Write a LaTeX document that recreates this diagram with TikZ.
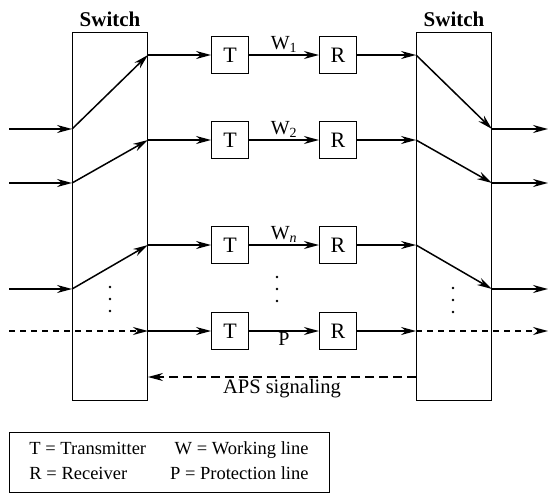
\documentclass[tikz,border=0pt]{standalone}
\usepackage{fontspec}
\setmainfont{Liberation Serif}
\usetikzlibrary{arrows.meta, positioning}

\begin{document}
\begin{tikzpicture}[
        x=1pt, y=-1pt,
        font=\fontsize{18.5}{22}\selectfont,
        sw/.style={draw, line width=0.9pt, minimum width=75pt, minimum height=368pt, inner sep=0pt},
        swlabel/.style={font=\fontsize{21}{24}\selectfont\bfseries},
        box/.style={draw, line width=0.9pt, minimum size=37pt, inner sep=0pt, font=\fontsize{22}{24}\selectfont},
        lbl/.style={font=\fontsize{20}{24}\selectfont},
        arr/.style={-{Stealth[length=15pt, width=8pt]}, line width=1.5pt},
        prot/.style={arr, dash pattern=on 6pt off 5pt},
        aps/.style={arr, line width=1.2pt, dash pattern=on 9pt off 5pt}
    ]
    \useasboundingbox (0,0) rectangle (550,493);

    \node[sw] (sw1) at (110,216) {};
    \node[sw] (sw2) at (454,216) {};
    \node[swlabel, above=1pt of sw1] (lab1) {Switch};
    \node[swlabel, above=1pt of sw2] (lab2) {Switch};

    \node[box] (t1) at (230,55)  {T};
    \node[box] (t2) at (230,140) {T};
    \node[box] (t3) at (230,245) {T};
    \node[box] (t4) at (230,331) {T};
    \node[box, right=70pt of t1] (r1) {R};
    \node[box, right=70pt of t2] (r2) {R};
    \node[box, right=70pt of t3] (r3) {R};
    \node[box, right=70pt of t4] (r4) {R};

    \foreach \i/\yin/\yout in {1/129/55, 2/183/140, 3/289/245} {
        \coordinate (in\i)  at (9,\yin);
        \coordinate (a\i)   at (sw1.west |- 0,\yin);
        \coordinate (b\i)   at (sw1.east |- 0,\yout);
        \coordinate (c\i)   at (sw2.west |- 0,\yout);
        \coordinate (d\i)   at (sw2.east |- 0,\yin);
        \coordinate (out\i) at (548,\yin);
    }
    \coordinate (inp)  at (9,331);
    \coordinate (b4)   at (sw1.east |- 0,331);
    \coordinate (c4)   at (sw2.west |- 0,331);
    \coordinate (outp) at (548,331);

    \foreach \i in {1,2,3} {
        \draw[arr] (in\i) -- (a\i);
        \draw[arr] (a\i) -- (b\i);
        \draw[arr] (b\i) -- (t\i);
        \draw[arr] (r\i) -- (c\i);
        \draw[arr] (c\i) -- (d\i);
        \draw[arr] (d\i) -- (out\i);
    }
    \draw[arr] (t1) -- node[lbl, above, inner sep=2pt] {W\textsubscript{1}} (r1);
    \draw[arr] (t2) -- node[lbl, above, inner sep=2pt] {W\textsubscript{2}} (r2);
    \draw[arr] (t3) -- node[lbl, above, inner sep=2pt] {W\textsubscript{\textit{n}}} (r3);

    % protection line
    \draw[prot] (inp) -- (b4);
    \draw[arr]  (b4) -- (t4);
    \draw[arr]  (t4) -- node[lbl, below, inner sep=0.5pt] {P} (r4);
    \draw[arr]  (r4) -- (c4);
    \draw[prot] (c4) -- (outp);

    \coordinate (apsr) at (sw2.west |- 0,377);
    \coordinate (apsl) at (sw1.east |- 0,377);
    \draw[aps] (apsr) -- node[lbl, below, inner sep=2pt, font=\fontsize{20.5}{24}\selectfont] {APS signaling} (apsl);

    \foreach \x/\y in {110/287, 277/277, 453/288} {
        \foreach \k in {0,12,24}
            \fill (\x,\y+\k) circle (1.4);
    }

    \node[draw, line width=0.9pt, minimum width=320pt, minimum height=60pt, inner sep=0pt] (legend) at (169,462)
        {\renewcommand{\arraystretch}{1.15}%
         \begin{tabular}{@{}l@{\hspace{24pt}}r@{}}
         T = Transmitter & W = Working line\\
         R = Receiver & P = Protection line
         \end{tabular}};
\end{tikzpicture}
\end{document}
